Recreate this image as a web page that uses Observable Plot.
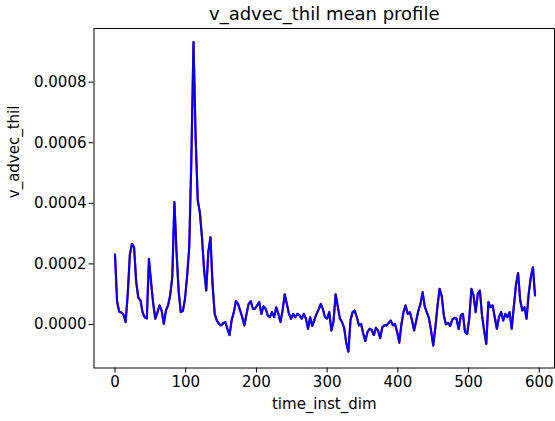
<!DOCTYPE html>
<html>
<head>
<meta charset="utf-8">
<script src="https://cdn.jsdelivr.net/npm/d3@7"></script>
<script src="https://cdn.jsdelivr.net/npm/@observablehq/plot@0.6"></script>
<style>
  html, body { margin: 0; padding: 0; background: #fff; }
  #chart svg { font-family: "DejaVu Sans", sans-serif; overflow: visible; }
</style>
</head>
<body>
<div id="chart"></div>
<script>
const titleText = "v_advec_thil mean profile";
const xLabel = "time_inst_dim";
const yLabel = "v_advec_thil";
const xTicks = [0, 100, 200, 300, 400, 500, 600];
const yTicks = [0, 0.0002, 0.0004, 0.0006, 0.0008];

const times = [
  0,3,6,9,12,15,18,21,24,27,30,33,36,39,42,45,48,51,54,57,
  60,63,66,69,72,75,78,81,84,87,90,93,96,99,102,105,108,111,114,117,
  120,123,126,129,132,135,138,141,144,147,150,153,156,159,162,165,168,171,174,177,
  180,183,186,189,192,195,198,201,204,207,210,213,216,219,222,225,228,231,234,237,
  240,243,246,249,252,255,258,261,264,267,270,273,276,279,282,285,288,291,294,297,
  300,303,306,309,312,315,318,321,324,327,330,333,336,339,342,345,348,351,354,357,
  360,363,366,369,372,375,378,381,384,387,390,393,396,399,402,405,408,411,414,417,
  420,423,426,429,432,435,438,441,444,447,450,453,456,459,462,465,468,471,474,477,
  480,483,486,489,492,495,498,501,504,507,510,513,516,519,522,525,528,531,534,537,
  540,543,546,549,552,555,558,561,564,567,570,573,576,579,582,585,588,591,594
];

const values = [
  0.000231,0.000075,0.000042,0.000040,0.000033,0.000008,0.000100,0.000230,0.000266,0.000255,
  0.000140,0.000088,0.000080,0.000040,0.000024,0.000020,0.000217,0.000140,0.000070,0.000019,
  0.000040,0.000063,0.000046,0.000002,0.000046,0.000063,0.000096,0.000156,0.000404,0.000240,
  0.000110,0.000041,0.000045,0.000085,0.000160,0.000255,0.000550,0.000932,0.000620,0.000410,
  0.000370,0.000288,0.000180,0.000112,0.000240,0.000288,0.000130,0.000035,0.000013,0.000002,
  -0.000003,0.000004,0.000008,-0.000015,-0.000035,0.000015,0.000040,0.000077,0.000068,0.000046,
  0.000024,-0.000003,0.000035,0.000068,0.000077,0.000052,0.000052,0.000063,0.000074,0.000035,
  0.000060,0.000052,0.000030,0.000024,0.000041,0.000024,0.000057,0.000035,0.000008,0.000046,
  0.000100,0.000068,0.000035,0.000019,0.000035,0.000024,0.000035,0.000030,0.000019,0.000035,
  0.000019,-0.000014,0.000024,-0.000005,0.000015,0.000035,0.000050,0.000068,0.000050,0.000024,
  0.000019,0.000041,-0.000020,0.000010,0.000100,0.000060,0.000020,0.000008,-0.000010,-0.000060,
  -0.000090,0.000013,0.000041,0.000046,0.000024,-0.000003,0.000002,-0.000030,-0.000055,-0.000025,
  -0.000014,-0.000018,-0.000035,-0.000011,-0.000020,-0.000045,-0.000009,-0.000003,-0.000003,0.000005,
  0.000013,-0.000003,0.000002,-0.000025,-0.000060,0.000000,0.000041,0.000063,0.000035,0.000041,
  0.000013,-0.000020,0.000013,0.000046,0.000068,0.000107,0.000060,0.000040,0.000020,-0.000020,
  -0.000070,-0.000010,0.000060,0.000118,0.000095,0.000030,0.000000,0.000005,-0.000005,0.000016,
  0.000022,0.000019,-0.000015,0.000030,0.000035,-0.000025,-0.000031,0.000020,0.000118,0.000096,
  0.000041,0.000101,0.000112,0.000030,-0.000020,-0.000064,0.000074,0.000057,0.000063,0.000024,
  -0.000014,0.000024,0.000041,0.000013,0.000035,0.000024,0.000041,-0.000014,0.000060,0.000130,
  0.000170,0.000080,0.000046,0.000057,0.000019,0.000101,0.000156,0.000189,0.000096
];

const data = times.map((t, i) => ({t, v: values[i]}));

const fmtY = d3.format(".4f");

const chart = Plot.plot({
  width: 555,
  height: 421,
  marginLeft: 93.5,
  marginRight: 1,
  marginTop: 28,
  marginBottom: 53.5,
  style: {fontFamily: "DejaVu Sans, sans-serif", fontSize: "15px", color: "#000", background: "#fff"},
  x: {domain: [-29.7, 621.5]},
  y: {domain: [-0.0001436, 0.000977]},
  marks: [
    Plot.line(data, {x: "t", y: "v", stroke: "#ff0000", strokeWidth: 2.1}),
    Plot.line(data, {x: "t", y: "v", stroke: "#0000ff", strokeWidth: 2.1}),
    Plot.frame({stroke: "#000", strokeWidth: 1}),
    Plot.axisX(xTicks, {tickSize: 5, tickPadding: 3, fontSize: 15, label: null, stroke: "#000", color: "#000"}),
    Plot.axisY(yTicks, {tickSize: 5, tickPadding: 2.5, fontSize: 15, label: null, tickFormat: fmtY, stroke: "#000", color: "#000"}),
    Plot.text([xLabel], {frameAnchor: "bottom", dy: 41, fontSize: 15, fill: "#000"}),
    Plot.text([yLabel], {frameAnchor: "left", dx: -80, rotate: -90, fontSize: 15, fill: "#000"}),
    Plot.text([titleText], {frameAnchor: "top", dy: -21, fontSize: 18, fill: "#000"})
  ]
});

document.getElementById("chart").appendChild(chart);
</script>
</body>
</html>
